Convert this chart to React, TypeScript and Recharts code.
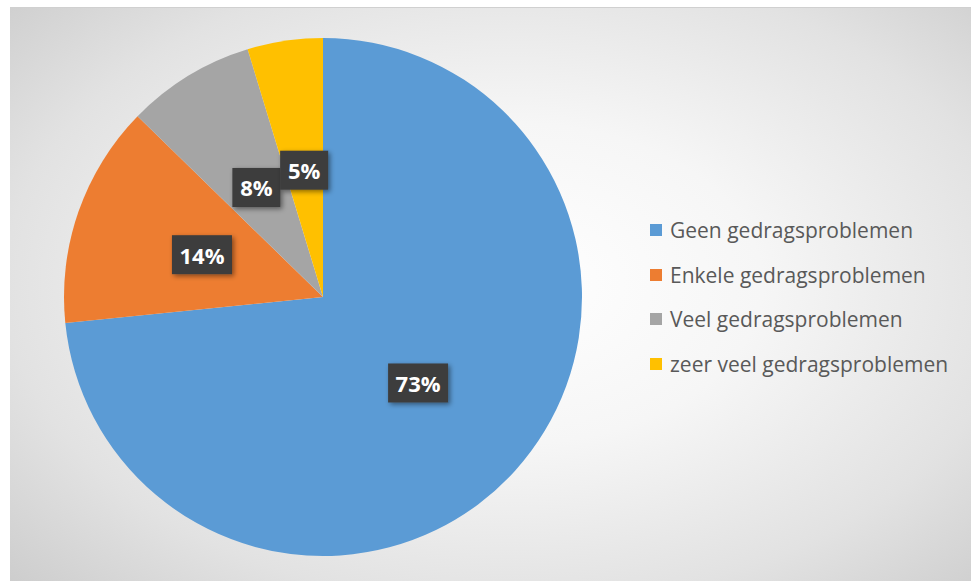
import { PieChart, Pie, Cell, Legend } from 'recharts';

const categories = [
  'Geen gedragsproblemen',
  'Enkele gedragsproblemen',
  'Veel gedragsproblemen',
  'zeer veel gedragsproblemen',
];
// shares as measured from slice angles; labels show them rounded
const shares = [73.4, 13.9, 8.0, 4.7];
const sliceColors = ['#5b9bd5', '#ed7d31', '#a5a5a5', '#ffc000'];

const data = categories.map((name, i) => ({ name, value: shares[i] }));

const RADIAN = Math.PI / 180;

// dark label boxes like the Office "data callout" style
function renderLabel(props) {
  const { cx, cy, midAngle, outerRadius, value } = props;
  const r = outerRadius * 0.495;
  const x = cx + r * Math.cos(-midAngle * RADIAN);
  const y = cy + r * Math.sin(-midAngle * RADIAN);
  const text = `${Math.round(value)}%`;
  const w = text.length * 12 + 24;
  const h = 39;
  return (
    <g>
      <rect
        x={x - w / 2}
        y={y - h / 2}
        width={w}
        height={h}
        fill="#3d3d3d"
        filter="url(#boxShadow)"
      />
      <text
        x={x}
        y={y}
        textAnchor="middle"
        dominantBaseline="central"
        fill="#ffffff"
        fontSize={22}
        fontWeight="bold"
        fontFamily="'Open Sans', sans-serif"
      >
        {text}
      </text>
    </g>
  );
}

function renderLegend() {
  return (
    <div>
      {categories.map((name, i) => (
        <div key={name} style={{ display: 'flex', alignItems: 'center', height: 44.5 }}>
          <span
            style={{
              display: 'inline-block',
              width: 12,
              height: 12,
              background: sliceColors[i],
              marginRight: 8,
            }}
          />
          <span style={{ color: '#595959', fontSize: 21, fontFamily: "'Open Sans', sans-serif" }}>
            {name}
          </span>
        </div>
      ))}
    </div>
  );
}

export default function App() {
  return (
    <div style={{ position: 'absolute', left: 0, top: 0, width: 971, height: 581, background: '#fff' }}>
      <div
        style={{
          position: 'absolute',
          left: 10,
          top: 7,
          width: 961,
          height: 574,
          borderTop: '1px solid #d0d0d0',
          background: 'radial-gradient(ellipse 75% 80% at 52% 48%, #ffffff 0%, #f6f6f6 35%, #e2e2e2 70%, #c9c9c9 100%)',
        }}
      />
      <div style={{ position: 'absolute', left: 0, top: 0 }}>
        <PieChart width={971} height={581} margin={{ top: 0, right: 0, bottom: 0, left: 0 }}>
          <defs>
            <filter id="boxShadow" x="-30%" y="-30%" width="160%" height="160%">
              <feDropShadow dx={2} dy={2} stdDeviation={2.5} floodColor="#000" floodOpacity={0.45} />
            </filter>
          </defs>
          <Pie
            data={data}
            dataKey="value"
            nameKey="name"
            cx={323}
            cy={297}
            outerRadius={259}
            startAngle={90}
            endAngle={-270}
            stroke="none"
            label={renderLabel}
            labelLine={false}
            isAnimationActive={false}
          >
            {data.map((d, i) => (
              <Cell key={d.name} fill={sliceColors[i]} />
            ))}
          </Pie>
          <Legend
            layout="vertical"
            content={renderLegend}
            wrapperStyle={{ left: 650, top: 208, width: 320 }}
          />
        </PieChart>
      </div>
    </div>
  );
}
